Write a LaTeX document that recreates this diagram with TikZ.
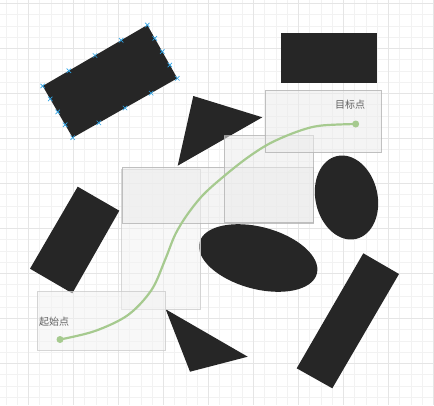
\documentclass[tikz,border=0pt]{standalone}
\usepackage{fontspec}
\newfontfamily\cjkfont{Noto Sans CJK SC}
\usetikzlibrary{calc}
\definecolor{shapefill}{HTML}{262626}
\definecolor{gridminor}{HTML}{F2F2F2}
\definecolor{gridmajor}{HTML}{E5E5E5}
\definecolor{pathgreen}{HTML}{A6CA8F}
\definecolor{markblue}{HTML}{2FA4E7}
\definecolor{labelgray}{HTML}{606060}
\tikzset{
  obstacle/.style={fill=shapefill},
  glassbox/.style={fill=black!8, fill opacity=0.55, draw=black!30, draw opacity=0.8, line width=0.8pt},
  paleglass/.style={fill=black!5, fill opacity=0.5, draw=black!20, draw opacity=0.8, line width=0.8pt},
  selmark/.style={draw=markblue, line width=0.7pt},
  route/.style={draw=pathgreen, line width=2.2pt, line cap=round},
  enddot/.style={circle, fill=pathgreen, inner sep=0pt, minimum size=7pt},
  lbl/.style={font=\cjkfont\fontsize{10}{12}\selectfont, text=labelgray, inner sep=0pt}
}
\begin{document}
\begin{tikzpicture}[x=1pt, y=-1pt]
\useasboundingbox (0,0) rectangle (434,405);
\fill[white] (0,0) rectangle (434,405);
% grid
\foreach \k in {0,...,38} {
  \draw[gridminor, line width=0.6pt] ({5.8+11.25*\k},0) -- ({5.8+11.25*\k},405);
}
\foreach \k in {0,...,35} {
  \draw[gridminor, line width=0.6pt] (0,{3.3+11.25*\k}) -- (434,{3.3+11.25*\k});
}
\foreach \k in {0,...,9} {
  \draw[gridmajor, line width=0.6pt] ({28.3+45*\k},0) -- ({28.3+45*\k},405);
  \draw[gridmajor, line width=0.6pt] (0,{3.3+45*\k}) -- (434,{3.3+45*\k});
}
% obstacles
\coordinate (r1) at (42.7,86);
\coordinate (r2) at (147.3,25);
\coordinate (r3) at (177.3,78.3);
\coordinate (r4) at (72.7,137.7);
\fill[obstacle] (r1) -- (r2) -- (r3) -- (r4) -- cycle;
\fill[obstacle] (281,33.3) rectangle (376.7,82.7);
\fill[obstacle] (193.3,96) -- (262.3,117.3) -- (177.7,165.7) -- cycle;
\fill[obstacle] (77.7,186.7) -- (119.3,210.7) -- (72.3,293.3) -- (30,268.7) -- cycle;
\fill[obstacle, rotate around={13:(346.5,197.5)}] (346.5,197.5) ellipse [x radius=31pt, y radius=42.5pt];
\fill[obstacle, rotate around={-15:(258.2,258)}] (258.2,258) ellipse [x radius=60.7pt, y radius=31pt];
\fill[obstacle] (165.7,309.3) -- (247.7,356.7) -- (190,371.7) -- cycle;
\fill[obstacle] (363.3,253.3) -- (399,274) -- (332.3,388.3) -- (296.7,368.3) -- cycle;
% selection marks
\foreach \a/\b in {r1/r2, r2/r3, r3/r4, r4/r1} {
  \foreach \t in {0,0.25,0.5,0.75} {
    \path ($(\a)!\t!(\b)$) coordinate (m);
    \draw[selmark] ($(m)+(-2.2,-2.2)$) -- ($(m)+(2.2,2.2)$);
    \draw[selmark] ($(m)+(-2.2,2.2)$) -- ($(m)+(2.2,-2.2)$);
  }
}
% translucent boxes
\draw[paleglass] (121.5,169.3) rectangle (200.5,309.3);
\draw[glassbox] (122.3,167.3) rectangle (313.3,223);
\draw[glassbox] (224.3,135.5) rectangle (313.3,222.3);
\draw[glassbox] (265.3,90) rectangle (381,152.7);
\draw[paleglass] (37.3,291.7) rectangle (165.7,350);
% labels
\node[lbl, anchor=west] (startlbl) at (39,321.7) {起始点};
\node[lbl, anchor=west] (goallbl) at (335,104.3) {目标点};
% route
\node[enddot] (start) at (60,339.5) {};
\node[enddot] (goal) at (355.7,124) {};
\draw[route] plot[smooth, tension=0.55] coordinates {(start.center) (95,331) (128,315) (151.5,290) (165,260) (175,235) (187,215) (203,195) (223,177) (247,158) (270,143.3) (297,131.7) (320,125.7) (goal.center)};
\end{tikzpicture}
\end{document}
